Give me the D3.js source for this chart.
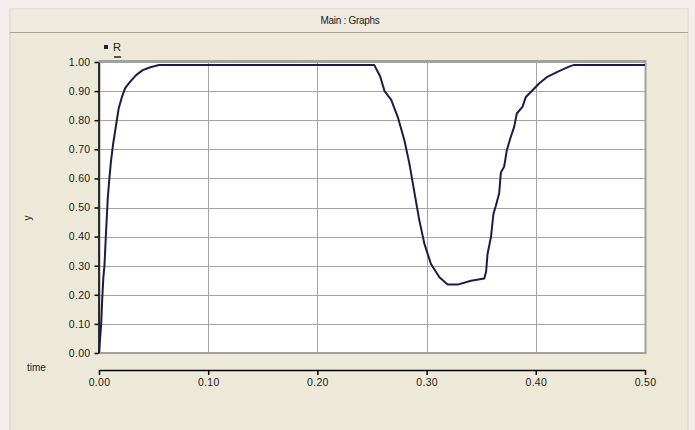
<!DOCTYPE html>
<html>
<head>
<meta charset="utf-8">
<script src="https://cdn.jsdelivr.net/npm/d3@7"></script>
<style>
  html, body { margin: 0; padding: 0; background: #f3eeec; }
  svg { display: block; font-family: "Liberation Sans", Arial, sans-serif; }
</style>
</head>
<body>
<div id="chart"></div>
<script>
// R over time
const timeValues = [0, 0.001, 0.002, 0.003, 0.004, 0.005, 0.0065, 0.008, 0.0095, 0.011, 0.013, 0.0155, 0.018, 0.021, 0.024, 0.028, 0.034, 0.04, 0.047, 0.055,
  0.252, 0.2575, 0.2615, 0.2676, 0.2737, 0.2797, 0.2843, 0.2889, 0.2934, 0.298, 0.304, 0.3117, 0.3193, 0.3284, 0.3406, 0.3528, 0.3545, 0.3558, 0.359, 0.3612, 0.3635, 0.3665,
  0.368, 0.371, 0.3735, 0.3766, 0.3802, 0.3826, 0.3878, 0.3909, 0.397, 0.403, 0.4106, 0.4198, 0.4304, 0.435, 0.5];
const rValues = [0, 0.05, 0.10, 0.19, 0.26, 0.30, 0.42, 0.53, 0.60, 0.66, 0.72, 0.78, 0.84, 0.88, 0.91, 0.93, 0.955, 0.972, 0.982, 0.99,
  0.99, 0.95, 0.90, 0.87, 0.81, 0.73, 0.65, 0.55, 0.455, 0.375, 0.306, 0.26, 0.235, 0.235, 0.248, 0.256, 0.28, 0.34, 0.40, 0.478, 0.507, 0.55,
  0.62, 0.64, 0.697, 0.737, 0.777, 0.823, 0.846, 0.88, 0.903, 0.926, 0.949, 0.966, 0.984, 0.99, 0.99];
const xTicks = [0, 0.1, 0.2, 0.3, 0.4, 0.5];
const yTicks = [0, 0.1, 0.2, 0.3, 0.4, 0.5, 0.6, 0.7, 0.8, 0.9, 1.0];
const title = 'Main : Graphs';
const seriesName = 'R';

const width = 695, height = 430;
const plotLeft = 99, plotRight = 645, plotTop = 62, plotBottom = 353;

const svg = d3.select('#chart')
  .append('svg')
  .attr('width', width)
  .attr('height', height);

// Panel
svg.append('rect')
  .attr('x', 10).attr('y', 9)
  .attr('width', 678).attr('height', 430)
  .attr('fill', '#ece9d8')
  .attr('stroke', '#d4d0c0');

// Title bar
svg.append('rect')
  .attr('x', 10.5).attr('y', 9.5)
  .attr('width', 677).attr('height', 23)
  .attr('fill', '#efecdf');
svg.append('line')
  .attr('x1', 10).attr('x2', 688)
  .attr('y1', 32.5).attr('y2', 32.5)
  .attr('stroke', '#a8a596');
svg.append('text')
  .attr('x', 350).attr('y', 24)
  .attr('text-anchor', 'middle')
  .attr('font-size', '10px')
  .attr('letter-spacing', '-0.3px')
  .attr('fill', '#222')
  .text(title);

const xScale = d3.scaleLinear().domain([0, 0.5]).range([plotLeft, plotRight]);
const yScale = d3.scaleLinear().domain([0, 1]).range([plotBottom, plotTop]);

// Plot area
svg.append('rect')
  .attr('x', plotLeft).attr('y', plotTop)
  .attr('width', plotRight - plotLeft).attr('height', plotBottom - plotTop)
  .attr('fill', '#ffffff');

// Grid
svg.append('g')
  .selectAll('line')
  .data(yTicks)
  .join('line')
  .attr('x1', plotLeft).attr('x2', plotRight)
  .attr('y1', d => Math.round(yScale(d)) + 0.5)
  .attr('y2', d => Math.round(yScale(d)) + 0.5)
  .attr('stroke', '#a4a4a4');
svg.append('g')
  .selectAll('line')
  .data(xTicks)
  .join('line')
  .attr('y1', plotTop).attr('y2', plotBottom)
  .attr('x1', d => Math.round(xScale(d)) + 0.5)
  .attr('x2', d => Math.round(xScale(d)) + 0.5)
  .attr('stroke', '#a4a4a4');
svg.append('rect')
  .attr('x', plotLeft + 0.5).attr('y', plotTop - 1)
  .attr('width', plotRight - plotLeft).attr('height', plotBottom - plotTop + 1)
  .attr('fill', 'none')
  .attr('stroke', '#a0a0a0')
  .attr('stroke-width', 2);

// Y axis
const yAxis = svg.append('g')
  .attr('transform', `translate(${plotLeft - 0.5},0)`)
  .call(d3.axisLeft(yScale).tickValues(yTicks).tickFormat(d3.format('.2f')).tickSize(4).tickSizeOuter(0));
yAxis.select('.domain').attr('stroke', '#000').attr('stroke-width', 1.5);
yAxis.selectAll('.tick line').attr('stroke', '#000').attr('stroke-width', 1.5);
yAxis.selectAll('.tick text')
  .attr('font-size', '10.5px')
  .attr('letter-spacing', '0.3px')
  .attr('font-family', '"Liberation Sans", Arial, sans-serif')
  .attr('fill', '#1a1a1a')
  .attr('x', -8);

// X axis (separate strip below the plot)
const xAxis = svg.append('g')
  .attr('transform', 'translate(0,370)')
  .call(d3.axisBottom(xScale).tickValues(xTicks).tickFormat(d3.format('.2f')).tickSize(5).tickSizeOuter(0));
xAxis.select('.domain').attr('stroke', '#000').attr('stroke-width', 1.5);
xAxis.selectAll('.tick line').attr('stroke', '#000').attr('stroke-width', 1.5);
xAxis.selectAll('.tick text')
  .attr('font-size', '10.5px')
  .attr('letter-spacing', '0.3px')
  .attr('font-family', '"Liberation Sans", Arial, sans-serif')
  .attr('fill', '#1a1a1a')
  .attr('y', 9);

// Axis titles
svg.append('text')
  .attr('x', 27).attr('y', 371)
  .attr('font-size', '10px')
  .attr('fill', '#1a1a1a')
  .text('time');
svg.append('text')
  .attr('transform', 'translate(31,218) rotate(-90)')
  .attr('text-anchor', 'middle')
  .attr('font-size', '10px')
  .attr('fill', '#1a1a1a')
  .text('y');

// Legend
svg.append('rect')
  .attr('x', 104).attr('y', 45)
  .attr('width', 4).attr('height', 4)
  .attr('fill', '#1c1c50');
svg.append('text')
  .attr('x', 113).attr('y', 51)
  .attr('font-size', '11px')
  .attr('fill', '#1a1a1a')
  .text(seriesName);
svg.append('line')
  .attr('x1', 114).attr('x2', 121)
  .attr('y1', 57).attr('y2', 57)
  .attr('stroke', '#222')
  .attr('stroke-width', 1.5);

// Series line
const line = d3.line()
  .x((d, i) => xScale(timeValues[i]))
  .y(d => yScale(d));
svg.append('path')
  .datum(rValues)
  .attr('fill', 'none')
  .attr('stroke', '#1c1c48')
  .attr('stroke-width', 2)
  .attr('stroke-linejoin', 'round')
  .attr('d', line);
</script>
</body>
</html>
